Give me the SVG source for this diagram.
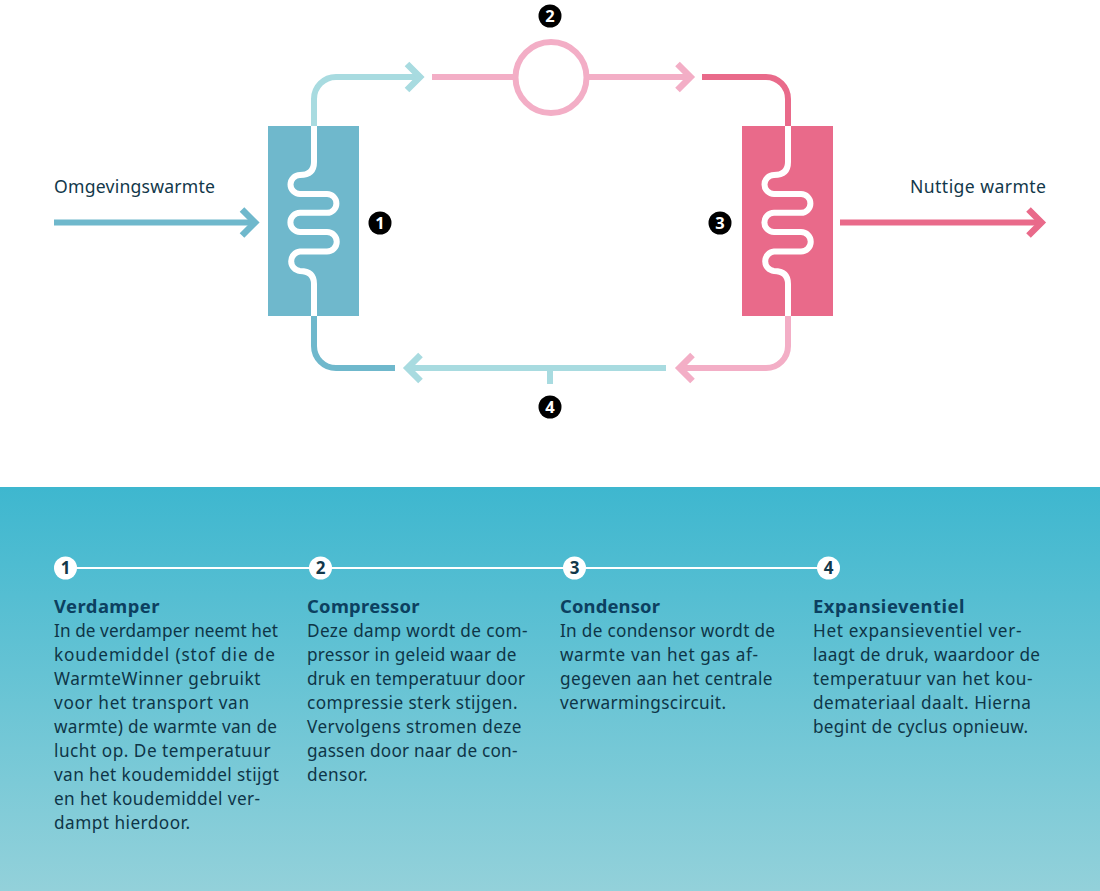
<svg xmlns="http://www.w3.org/2000/svg" width="1100" height="891" viewBox="0 0 1100 891">
<style>
text{font-family:"Noto Sans","Open Sans",sans-serif}
.p{fill:none;stroke-width:6}
.c{fill:none;stroke-width:6.5}
.lt{stroke:#a8dbe0}.dt{stroke:#6fb8cc}.lp{stroke:#f3aec6}.dp{stroke:#e96a8a}
.lab{font-size:17.6px;fill:#12384a}
.b{fill:#000}
.bt{font-size:16.5px;font-weight:700;fill:#fff;text-anchor:middle}
.w{fill:#fff}
.wt{font-size:17px;font-weight:700;fill:#12384a;text-anchor:middle}
.h{font-size:18.4px;font-weight:700;fill:#0c4060}
.t{font-size:17.2px;fill:#0e3547}
</style>
<defs>
<linearGradient id="bg" x1="0" y1="0" x2="0" y2="1"><stop offset="0" stop-color="#3eb7cf"/><stop offset="1" stop-color="#93d1da"/></linearGradient>
<path id="coil" d="M314 126V162Q314 175 300 175A9.5 9.5 0 0 0 300 194H327A9.4 9.4 0 0 1 327 212.8H300A9.6 9.6 0 0 0 300 232H327A9.7 9.7 0 0 1 327 251.5H300A9.8 9.8 0 0 0 300 271Q314 271 314 284V316" fill="none" stroke="#fff" stroke-width="6"/>
</defs>
<rect id="panel" x="0" y="487" width="1100" height="404" fill="url(#bg)"/>
<g id="connectors">
<path class="p lt" d="M314 126V99A22 22 0 0 1 336 77H420"/>
<path class="c lt" d="M407 64L420 77L407 90"/>
<path class="p lp" d="M432 77H513M588 77H690"/>
<path class="c lp" d="M677.500 64L690.500 77L677.500 90"/>
<path class="p dp" d="M702 77H766A22 22 0 0 1 788 99V126"/>
<path class="p lp" d="M788 316V346A22 22 0 0 1 766 368H680"/>
<path class="c lp" d="M692.500 355L679.500 368L692.500 381"/>
<path class="p lt" d="M666 368H408M550 368V384"/>
<path class="c lt" d="M420.500 355L407.500 368L420.500 381"/>
<path class="p dt" d="M395 368H336A22 22 0 0 1 314 346V316"/>
<path class="p dt" d="M54 222.500H255"/>
<path class="c dt" d="M242 209.500L255 222.500L242 235.500"/>
<path class="p dp" d="M840 222.500H1041"/>
<path class="c dp" d="M1028.500 209.500L1041.500 222.500L1028.500 235.500"/>
</g>
<g id="node-verdamper"><rect x="268" y="126" width="91" height="190" fill="#6fb8cc"/><use href="#coil"/><circle class="b" cx="380" cy="223" r="11.5"/><text class="bt" x="380" y="229">1</text></g>
<g id="node-compressor"><circle cx="551" cy="77.500" r="35.500" fill="#fff" stroke="#f3aec6" stroke-width="6"/><circle class="b" cx="550" cy="16" r="11.5"/><text class="bt" x="550" y="22">2</text></g>
<g id="node-condensor"><rect x="742" y="126" width="91" height="190" fill="#e96a8a"/><use href="#coil" x="474"/><circle class="b" cx="720" cy="223" r="11.5"/><text class="bt" x="720" y="229">3</text></g>
<g id="node-expansieventiel"><circle class="b" cx="550" cy="407" r="11.5"/><text class="bt" x="550" y="413">4</text></g>
<g id="labels"><text class="lab" x="54" y="193" textLength="161">Omgevingswarmte</text><text class="lab" x="910" y="193" textLength="136">Nuttige warmte</text></g>
<g id="timeline"><path d="M65 568H828" stroke="#fff" stroke-width="2"/>
<circle class="w" cx="65.500" cy="568" r="11.5"/><text class="wt" x="65.500" y="574">1</text>
<circle class="w" cx="320.500" cy="568" r="11.5"/><text class="wt" x="320.500" y="574">2</text>
<circle class="w" cx="574.500" cy="568" r="11.5"/><text class="wt" x="574.500" y="574">3</text>
<circle class="w" cx="828.500" cy="568" r="11.5"/><text class="wt" x="828.500" y="574">4</text></g>
<g id="col1"><text class="h" x="54" y="613" textLength="105.500">Verdamper</text>
<text class="t" x="54" y="637" textLength="224">In de verdamper neemt het</text>
<text class="t" x="54" y="661" textLength="221">koudemiddel (stof die de</text>
<text class="t" x="54" y="685" textLength="206.500">WarmteWinner gebruikt</text>
<text class="t" x="54" y="709" textLength="195">voor het transport van</text>
<text class="t" x="54" y="733" textLength="223">warmte) de warmte van de</text>
<text class="t" x="54" y="757" textLength="216.500">lucht op. De temperatuur</text>
<text class="t" x="54" y="781" textLength="225">van het koudemiddel stijgt</text>
<text class="t" x="54" y="805" textLength="206">en het koudemiddel ver-</text>
<text class="t" x="54" y="829" textLength="136">dampt hierdoor.</text></g>
<g id="col2"><text class="h" x="307" y="613" textLength="112.500">Compressor</text>
<text class="t" x="307" y="637" textLength="220.500">Deze damp wordt de com-</text>
<text class="t" x="307" y="661" textLength="209.500">pressor in geleid waar de</text>
<text class="t" x="307" y="685" textLength="218">druk en temperatuur door</text>
<text class="t" x="307" y="709" textLength="210.500">compressie sterk stijgen.</text>
<text class="t" x="307" y="733" textLength="214.500">Vervolgens stromen deze</text>
<text class="t" x="307" y="757" textLength="210.500">gassen door naar de con-</text>
<text class="t" x="307" y="781" textLength="60.500">densor.</text></g>
<g id="col3"><text class="h" x="560" y="613" textLength="100">Condensor</text>
<text class="t" x="560" y="637" textLength="215">In de condensor wordt de</text>
<text class="t" x="560" y="661" textLength="198">warmte van het gas af-</text>
<text class="t" x="560" y="685" textLength="212.500">gegeven aan het centrale</text>
<text class="t" x="560" y="709" textLength="166">verwarmingscircuit.</text></g>
<g id="col4"><text class="h" x="813" y="613" textLength="151.500">Expansieventiel</text>
<text class="t" x="813" y="637" textLength="208.500">Het expansieventiel ver-</text>
<text class="t" x="813" y="661" textLength="227">laagt de druk, waardoor de</text>
<text class="t" x="813" y="685" textLength="219.500">temperatuur van het kou-</text>
<text class="t" x="813" y="709" textLength="218">demateriaal daalt. Hierna</text>
<text class="t" x="813" y="733" textLength="215">begint de cyclus opnieuw.</text></g>
</svg>
